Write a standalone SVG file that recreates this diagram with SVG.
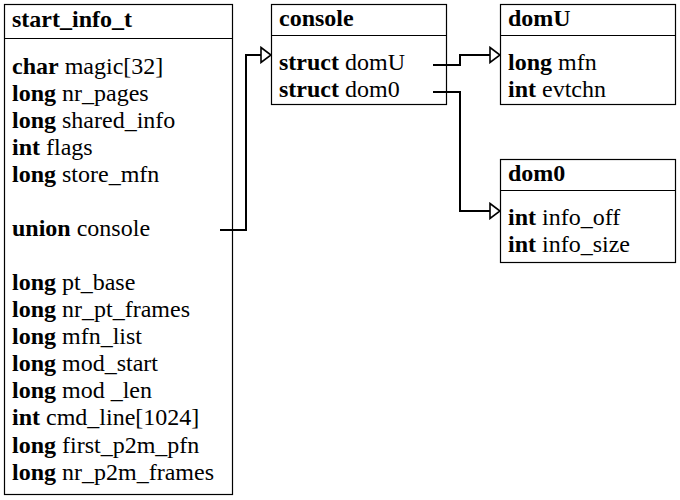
<svg xmlns="http://www.w3.org/2000/svg" width="680" height="500" viewBox="0 0 680 500">
<defs>
<marker id="arr" viewBox="0 0 12 18" refX="11" refY="9" markerWidth="12" markerHeight="18" markerUnits="userSpaceOnUse" orient="auto">
<path d="M1,1.5 L11,9 L1,16.5 Z" fill="#fff" stroke="#000" stroke-width="1.6"/>
</marker>
</defs>
<g id="start_info_t">
<rect fill="#fff" stroke="#000" stroke-width="1.2" x="4.5" y="4.5" width="228" height="490"/>
<line stroke="#000" stroke-width="1.2" x1="4.5" y1="38.5" x2="232.5" y2="38.5"/>
<text style="font-family:'Liberation Serif',serif;font-size:24px;font-weight:bold" x="12" y="27">start_info_t</text>
<text style="font-family:'Liberation Serif',serif;font-size:24px" x="12" y="74"><tspan style="font-weight:bold">char</tspan> magic[32]</text>
<text style="font-family:'Liberation Serif',serif;font-size:24px" x="12" y="101"><tspan style="font-weight:bold">long</tspan> nr_pages</text>
<text style="font-family:'Liberation Serif',serif;font-size:24px" x="12" y="128"><tspan style="font-weight:bold">long</tspan> shared_info</text>
<text style="font-family:'Liberation Serif',serif;font-size:24px" x="12" y="155"><tspan style="font-weight:bold">int</tspan> flags</text>
<text style="font-family:'Liberation Serif',serif;font-size:24px" x="12" y="182"><tspan style="font-weight:bold">long</tspan> store_mfn</text>
<text style="font-family:'Liberation Serif',serif;font-size:24px" x="12" y="236"><tspan style="font-weight:bold">union</tspan> console</text>
<text style="font-family:'Liberation Serif',serif;font-size:24px" x="12" y="290"><tspan style="font-weight:bold">long</tspan> pt_base</text>
<text style="font-family:'Liberation Serif',serif;font-size:24px" x="12" y="317"><tspan style="font-weight:bold">long</tspan> nr_pt_frames</text>
<text style="font-family:'Liberation Serif',serif;font-size:24px" x="12" y="344"><tspan style="font-weight:bold">long</tspan> mfn_list</text>
<text style="font-family:'Liberation Serif',serif;font-size:24px" x="12" y="371"><tspan style="font-weight:bold">long</tspan> mod_start</text>
<text style="font-family:'Liberation Serif',serif;font-size:24px" x="12" y="398"><tspan style="font-weight:bold">long</tspan> mod _len</text>
<text style="font-family:'Liberation Serif',serif;font-size:24px" x="12" y="425"><tspan style="font-weight:bold">int</tspan> cmd_line[1024]</text>
<text style="font-family:'Liberation Serif',serif;font-size:24px" x="12" y="453"><tspan style="font-weight:bold">long</tspan> first_p2m_pfn</text>
<text style="font-family:'Liberation Serif',serif;font-size:24px" x="12" y="480"><tspan style="font-weight:bold">long</tspan> nr_p2m_frames</text>
</g>
<g id="console">
<rect fill="#fff" stroke="#000" stroke-width="1.2" x="271.5" y="4.5" width="175" height="100"/>
<line stroke="#000" stroke-width="1.2" x1="271.5" y1="35.5" x2="446.5" y2="35.5"/>
<text style="font-family:'Liberation Serif',serif;font-size:24px;font-weight:bold" x="279" y="26">console</text>
<text style="font-family:'Liberation Serif',serif;font-size:24px" x="279" y="70"><tspan style="font-weight:bold">struct</tspan> domU</text>
<text style="font-family:'Liberation Serif',serif;font-size:24px" x="279" y="97"><tspan style="font-weight:bold">struct</tspan> dom0</text>
</g>
<g id="domU">
<rect fill="#fff" stroke="#000" stroke-width="1.2" x="500.5" y="4.5" width="175" height="100"/>
<line stroke="#000" stroke-width="1.2" x1="500.5" y1="35.5" x2="675.5" y2="35.5"/>
<text style="font-family:'Liberation Serif',serif;font-size:24px;font-weight:bold" x="508" y="26">domU</text>
<text style="font-family:'Liberation Serif',serif;font-size:24px" x="508" y="70"><tspan style="font-weight:bold">long</tspan> mfn</text>
<text style="font-family:'Liberation Serif',serif;font-size:24px" x="508" y="97"><tspan style="font-weight:bold">int</tspan> evtchn</text>
</g>
<g id="dom0">
<rect fill="#fff" stroke="#000" stroke-width="1.2" x="500.5" y="159.5" width="175" height="103"/>
<line stroke="#000" stroke-width="1.2" x1="500.5" y1="190.5" x2="675.5" y2="190.5"/>
<text style="font-family:'Liberation Serif',serif;font-size:24px;font-weight:bold" x="508" y="181">dom0</text>
<text style="font-family:'Liberation Serif',serif;font-size:24px" x="508" y="225"><tspan style="font-weight:bold">int</tspan> info_off</text>
<text style="font-family:'Liberation Serif',serif;font-size:24px" x="508" y="252"><tspan style="font-weight:bold">int</tspan> info_size</text>
</g>
<g id="connectors" fill="none" stroke="#000" stroke-width="2">
<polyline points="220,230 246,230 246,55 271,55" marker-end="url(#arr)"/>
<polyline points="433,65 460,65 460,55 500,55" marker-end="url(#arr)"/>
<polyline points="433,92 460,92 460,211 500,211" marker-end="url(#arr)"/>
</g>
</svg>
